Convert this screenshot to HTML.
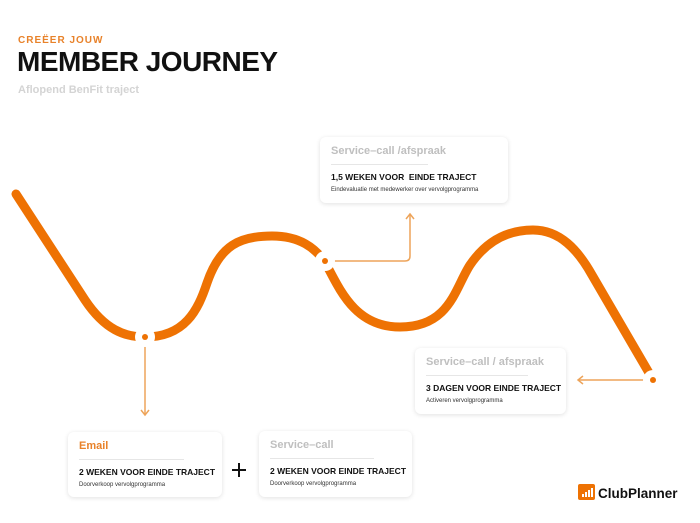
<!DOCTYPE html>
<html><head><meta charset="utf-8"><style>
body{margin:0;width:700px;height:523px;background:#fff;position:relative;overflow:hidden;font-family:"Liberation Sans",sans-serif}
.t1{position:absolute;left:18px;top:35px;font-size:10px;font-weight:bold;color:#e8822a;letter-spacing:1px}
.t2{position:absolute;left:17px;top:46px;font-size:28px;font-weight:900;color:#111;letter-spacing:-0.5px}
.t3{position:absolute;left:18px;top:84px;font-size:11px;color:#d4d4d4;font-weight:bold}
.card{position:absolute;background:#fff;border-radius:6px;box-shadow:0 1px 5px rgba(0,0,0,0.12)}
.card .h{position:absolute;left:11px;top:8px;font-size:11px;font-weight:bold;color:#bfbfbf}
.card .hr{position:absolute;left:11px;right:38px;top:27px;border-top:1px solid #e6e6e6}
.card .b{position:absolute;left:11px;top:35px;font-size:8.5px;font-weight:900;color:#111}
.card .s{position:absolute;left:11px;top:50px;font-size:6px;color:#333}
</style></head><body>
<div class="t1">CREËER JOUW</div>
<div class="t2">MEMBER JOURNEY</div>
<div class="t3">Aflopend BenFit traject</div>
<svg width="700" height="523" style="position:absolute;left:0;top:0">
<path d="M16,194 L85,300 C105,330 125,337 145,337 C185,337 198,310 207,283 C220,245 240,236 272,236 C300,236 315,248 325,262 C340,290 355,327 400,327 C450,327 455,288 470,265 C485,243 505,230 533,230 C560,230 578,250 592,275 L652,378" fill="none" stroke="#ee7203" stroke-width="9" stroke-linecap="round"/>
<g fill="none" stroke="#eda45a" stroke-width="1.5">
<path d="M145,337 V414"/><path d="M141,410 L145,415 L149,410"/>
<path d="M325,261 H405 Q410,261 410,256 V214"/><path d="M406,219 L410,214 L414,219"/>
<path d="M652,380 H578"/><path d="M583,376 L578,380 L583,384"/>
</g>
<g><circle cx="145" cy="337" r="10" fill="#fff"/><circle cx="145" cy="337" r="3" fill="#ee7203"/>
<circle cx="325" cy="261" r="10" fill="#fff"/><circle cx="325" cy="261" r="3" fill="#ee7203"/>
<circle cx="653" cy="380" r="10" fill="#fff"/><circle cx="653" cy="380" r="3" fill="#ee7203"/></g>
<path d="M239,463 V477 M232,470 H246" stroke="#111" stroke-width="2"/>
<rect x="578" y="484" width="17" height="16" rx="2" fill="#ee7203"/>
<g fill="#fff"><rect x="582" y="494" width="2" height="3"/><rect x="585" y="492" width="2" height="5"/><rect x="588" y="490" width="2" height="7"/><rect x="591" y="488" width="2" height="9"/></g>
<text x="598" y="498" font-family="Liberation Sans" font-weight="bold" font-size="13.5" fill="#111">ClubPlanner</text>
</svg>
<div class="card" style="left:320px;top:137px;width:188px;height:66px"><div class="h">Service–call /afspraak</div><div class="hr" style="right:80px"></div><div class="b">1,5 WEKEN VOOR&nbsp; EINDE TRAJECT</div><div class="s">Eindevaluatie met medewerker over vervolgprogramma</div></div>
<div class="card" style="left:415px;top:348px;width:151px;height:66px"><div class="h">Service–call / afspraak</div><div class="hr"></div><div class="b">3 DAGEN VOOR EINDE TRAJECT</div><div class="s">Activeren vervolgprogramma</div></div>
<div class="card" style="left:68px;top:432px;width:154px;height:65px"><div class="h" style="color:#e8822a">Email</div><div class="hr"></div><div class="b">2 WEKEN VOOR EINDE TRAJECT</div><div class="s">Doorverkoop vervolgprogramma</div></div>
<div class="card" style="left:259px;top:431px;width:153px;height:66px"><div class="h">Service–call</div><div class="hr"></div><div class="b">2 WEKEN VOOR EINDE TRAJECT</div><div class="s">Doorverkoop vervolgprogramma</div></div>
</body></html>
